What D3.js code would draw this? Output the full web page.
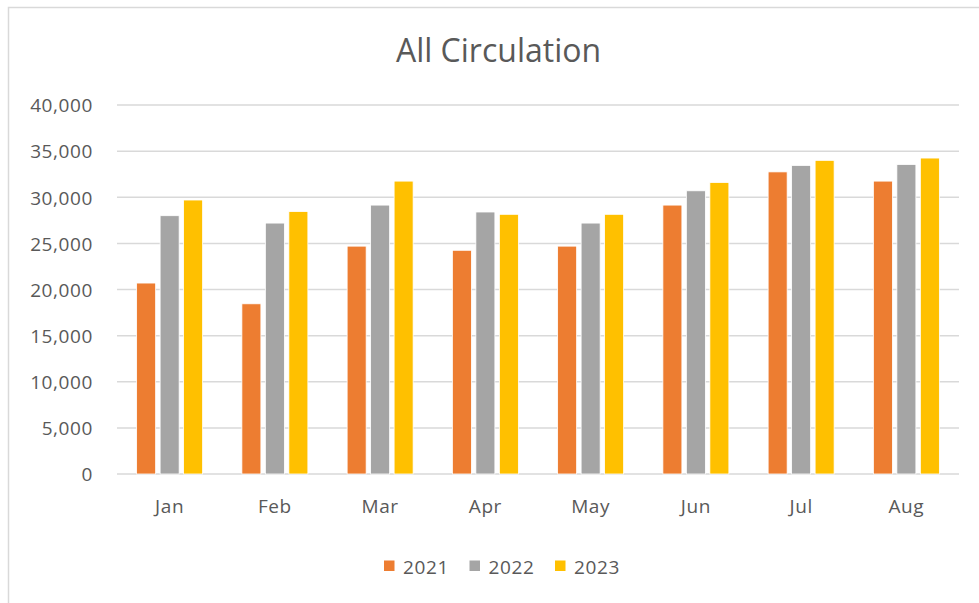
<!DOCTYPE html>
<html>
<head>
<meta charset="utf-8">
<script src="https://cdn.jsdelivr.net/npm/d3@7/dist/d3.min.js"></script>
<style>
  html, body { margin: 0; padding: 0; background: #fff; }
  text { font-family: "Open Sans", sans-serif; fill: #595959; }
</style>
</head>
<body>
<svg id="chart" width="979" height="603"></svg>
<script>
// data
const months = ["Jan", "Feb", "Mar", "Apr", "May", "Jun", "Jul", "Aug"];
const years = ["2021", "2022", "2023"];
const circ2021 = [20700, 18450, 24700, 24250, 24700, 29150, 32750, 31750];
const circ2022 = [28000, 27200, 29150, 28400, 27200, 30700, 33450, 33550];
const circ2023 = [29700, 28450, 31750, 28150, 28150, 31600, 34000, 34250];
const yTicks = [0, 5000, 10000, 15000, 20000, 25000, 30000, 35000, 40000];
const colors = ["#ED7D31", "#A5A5A5", "#FFC000"];

const series = [circ2021, circ2022, circ2023];
const svg = d3.select("#chart");

// outer chart frame
svg.append("rect")
    .attr("x", 8.5).attr("y", 7.5)
    .attr("width", 990).attr("height", 610)
    .attr("fill", "none")
    .attr("stroke", "#D9D9D9")
    .attr("stroke-width", 1.5);

const plot = { left: 117, right: 959, top: 105, bottom: 474 };

const x0 = d3.scaleBand().domain(months).range([plot.left, plot.right]);
const groupW = 66;
const x1 = d3.scaleBand().domain(years).range([0, groupW]).paddingInner(0.19);
const y = d3.scaleLinear().domain([0, 40000]).range([plot.bottom, plot.top]);

// gridlines
svg.append("g")
    .selectAll("line")
    .data(yTicks)
    .join("line")
    .attr("x1", plot.left).attr("x2", plot.right)
    .attr("y1", d => y(d)).attr("y2", d => y(d))
    .attr("stroke", "#D9D9D9")
    .attr("stroke-width", 1.5);

// y axis labels
const yAxis = svg.append("g")
    .attr("transform", `translate(${plot.left},0)`)
    .call(d3.axisLeft(y).tickValues(yTicks).tickFormat(d3.format(",")).tickSize(0).tickPadding(24));
yAxis.select(".domain").remove();
yAxis.selectAll("text")
    .attr("dy", "0.36em")
    .style("font-size", "19px")
    .style("letter-spacing", "0.6px")
    .style("font-family", "'Open Sans', sans-serif")
    .attr("fill", "#595959");

// bars
const offset = (x0.bandwidth() - groupW) / 2;
const groups = svg.append("g")
    .selectAll("g")
    .data(months)
    .join("g")
    .attr("transform", d => `translate(${x0(d) + offset},0)`);

groups.selectAll("rect")
    .data((m, i) => years.map((yr, s) => ({ yr, s, v: series[s][i] })))
    .join("rect")
    .attr("x", d => x1(d.yr))
    .attr("width", x1.bandwidth())
    .attr("y", d => y(d.v))
    .attr("height", d => y(0) - y(d.v))
    .attr("fill", d => colors[d.s])
    .attr("stroke", "#fff")
    .attr("stroke-width", 0.8);

// x axis labels
const xAxis = svg.append("g")
    .attr("transform", `translate(0,${plot.bottom})`)
    .call(d3.axisBottom(x0).tickSize(0).tickPadding(0));
xAxis.select(".domain").remove();
xAxis.selectAll("text")
    .attr("dy", null)
    .attr("y", 39)
    .style("font-size", "19px")
    .style("letter-spacing", "0.6px")
    .style("font-family", "'Open Sans', sans-serif")
    .attr("fill", "#595959");

// title
svg.append("text")
    .attr("x", 498.5).attr("y", 61.5)
    .attr("text-anchor", "middle")
    .style("font-size", "32px")
    .text("All Circulation");

// legend
const legend = svg.append("g")
    .selectAll("g")
    .data(years)
    .join("g")
    .attr("transform", (d, i) => `translate(${384 + i * 85.5},0)`);
legend.append("rect")
    .attr("x", 0).attr("y", 560.5)
    .attr("width", 10.5).attr("height", 10.5)
    .attr("fill", (d, i) => colors[i]);
legend.append("text")
    .attr("x", 19).attr("y", 574)
    .style("font-size", "19px")
    .style("letter-spacing", "0.6px")
    .text(d => d);
</script>
</body>
</html>
